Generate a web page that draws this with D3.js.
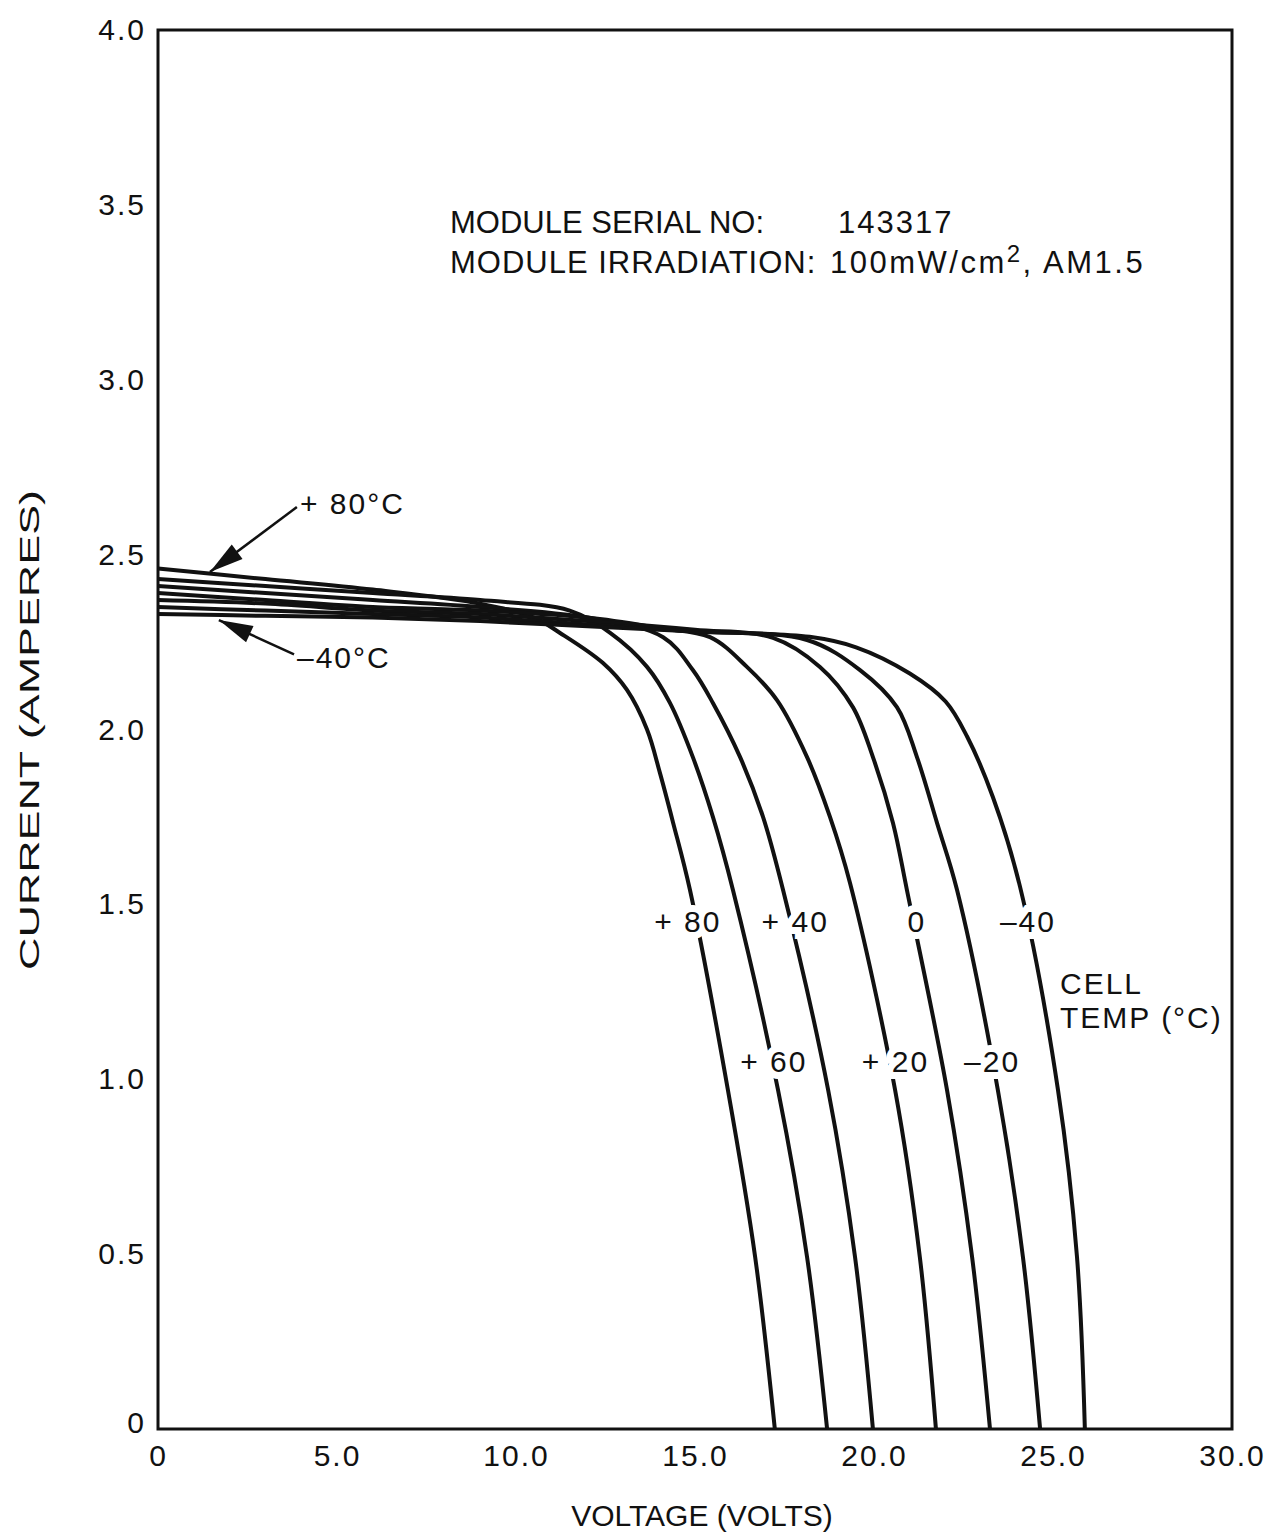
<!DOCTYPE html>
<html>
<head>
<meta charset="utf-8">
<script src="https://cdn.jsdelivr.net/npm/d3@7"></script>
<style>
  body { margin: 0; background: #fff; }
  svg { display: block; font-family: 'Liberation Sans', Arial, Helvetica, sans-serif; }
  .axis text { font-size: 30px; letter-spacing: 2px; fill: #111; }
  .note { font-size: 31px; fill: #111; }
  .lbl { font-size: 30px; fill: #111; letter-spacing: 2px; }
</style>
</head>
<body>
<svg width="1276" height="1533"></svg>
<script>
(function() {
  'use strict';

  // I-V curves, [volts, amperes], one per cell temperature
  const tempLabels = ['+80', '+60', '+40', '+20', '0', '-20', '-40'];
  const ivPlus80 = [[0, 2.46], [3, 2.43], [6, 2.40], [9, 2.36], [10.5, 2.32], [11.23, 2.276],
    [12.43, 2.19], [13.10, 2.113], [13.66, 2.0], [14.02, 1.876], [14.39, 1.733], [14.86, 1.541],
    [15.92, 0.969], [16.68, 0.492], [17.23, 0]];
  const ivPlus60 = [[0, 2.43], [3, 2.41], [6, 2.39], [9, 2.37], [11.5, 2.34], [12.63, 2.276],
    [13.66, 2.179], [14.30, 2.076], [14.94, 1.921], [15.50, 1.750], [16.06, 1.541],
    [17.32, 0.969], [18.13, 0.492], [18.69, 0]];
  const ivPlus40 = [[0, 2.41], [3, 2.39], [6, 2.37], [9, 2.35], [12, 2.32], [14.11, 2.264],
    [14.94, 2.17], [15.50, 2.076], [16.26, 1.921], [16.90, 1.75], [17.46, 1.541],
    [18.72, 0.969], [19.47, 0.492], [19.97, 0]];
  const ivPlus20 = [[0, 2.39], [3, 2.37], [6, 2.35], [9, 2.34], [12, 2.32], [14, 2.29],
    [15.42, 2.264], [16.45, 2.179], [17.29, 2.084], [18.13, 1.921], [18.77, 1.75],
    [19.33, 1.561], [20.59, 0.969], [21.28, 0.492], [21.73, 0]];
  const ivZero = [[0, 2.37], [3, 2.36], [6, 2.34], [9, 2.33], [12, 2.31], [15, 2.285],
    [17.18, 2.262], [18.49, 2.179], [19.41, 2.064], [19.97, 1.921], [20.53, 1.733],
    [20.92, 1.541], [22.04, 0.969], [22.74, 0.492], [23.24, 0]];
  const ivMinus20 = [[0, 2.35], [3, 2.34], [6, 2.33], [9, 2.32], [12, 2.30], [15, 2.28],
    [18.13, 2.256], [19.61, 2.17], [20.64, 2.064], [21.20, 1.921], [21.76, 1.733],
    [22.32, 1.541], [23.46, 0.969], [24.16, 0.492], [24.64, 0]];
  const ivMinus40 = [[0, 2.33], [3, 2.325], [6, 2.32], [9, 2.31], [12, 2.295], [15, 2.28],
    [18.2, 2.265], [19.5, 2.235], [21.0, 2.16], [22.0, 2.08], [22.6, 1.98],
    [23.32, 1.807], [24.08, 1.55], [25.14, 0.969], [25.67, 0.492], [25.89, 0]];
  const curves = [ivPlus80, ivPlus60, ivPlus40, ivPlus20, ivZero, ivMinus20, ivMinus40];

  const xTicks = [0, 5, 10, 15, 20, 25, 30];
  const xTickLabels = ['0', '5.0', '10.0', '15.0', '20.0', '25.0', '30.0'];
  const yTicks = [0, 0.5, 1, 1.5, 2, 2.5, 3, 3.5, 4];
  const yTickLabels = ['0', '0.5', '1.0', '1.5', '2.0', '2.5', '3.0', '3.5', '4.0'];

  // curve labels, placed in data units [volts, amperes]
  const curveLabelPos = [[14.8, 1.45], [17.2, 1.05], [17.8, 1.45], [20.6, 1.05],
    [21.2, 1.45], [23.3, 1.05], [24.3, 1.45]];

  const svg = d3.select('svg');
  svg.append('rect').attr('width', 1276).attr('height', 1533).attr('fill', '#fff');

  const x = d3.scaleLinear().domain([0, 30]).range([158, 1232]);
  const y = d3.scaleLinear().domain([0, 4]).range([1429, 30]);

  const xAxis = svg.append('g')
      .attr('class', 'axis')
      .attr('transform', 'translate(0,' + y(0) + ')')
      .call(d3.axisBottom(x)
          .tickValues(xTicks)
          .tickSize(0)
          .tickPadding(16)
          .tickFormat((d, i) => xTickLabels[i]));
  xAxis.select('.domain').remove();

  const yAxis = svg.append('g')
      .attr('class', 'axis')
      .attr('transform', 'translate(' + x(0) + ',0)')
      .call(d3.axisLeft(y)
          .tickValues(yTicks)
          .tickSize(0)
          .tickPadding(12)
          .tickFormat((d, i) => yTickLabels[i]));
  yAxis.select('.domain').remove();
  yAxis.selectAll('text').filter((d) => d === 0).attr('dy', '0.1em');

  // frame
  svg.append('rect')
      .attr('x', x(0))
      .attr('y', y(4))
      .attr('width', x(30) - x(0))
      .attr('height', y(0) - y(4))
      .attr('fill', 'none')
      .attr('stroke', '#111')
      .attr('stroke-width', 3);

  const line = d3.line()
      .x((d) => x(d[0]))
      .y((d) => y(d[1]))
      .curve(d3.curveCatmullRom.alpha(0.5));

  svg.append('g')
      .selectAll('path')
      .data(curves)
      .join('path')
      .attr('d', line)
      .attr('fill', 'none')
      .attr('stroke', '#111')
      .attr('stroke-width', 4);

  // curve labels with white background knock-out
  const lg = svg.append('g');
  tempLabels.forEach((t, i) => {
    const p = curveLabelPos[i];
    lg.append('text')
        .attr('class', 'lbl')
        .attr('x', x(p[0]))
        .attr('y', y(p[1]))
        .attr('text-anchor', 'middle')
        .attr('dy', '0.35em')
        .attr('stroke', '#fff')
        .attr('stroke-width', 14)
        .attr('paint-order', 'stroke')
        .text(t.replace('+', '+ ').replace('-', '\u2013'));
  });

  lg.append('text').attr('class', 'lbl')
      .attr('x', 1060).attr('y', 994).text('CELL');
  lg.append('text').attr('class', 'lbl')
      .attr('x', 1060).attr('y', 1028).text('TEMP (\u00b0C)');

  // header notes
  svg.append('text').attr('class', 'note').attr('x', 450).attr('y', 233).text('MODULE SERIAL NO:');
  svg.append('text').attr('class', 'note').attr('x', 838).attr('y', 233)
      .attr('letter-spacing', 2).text('143317');
  svg.append('text').attr('class', 'note').attr('x', 450).attr('y', 273)
      .attr('letter-spacing', 1).text('MODULE IRRADIATION:');
  const irr = svg.append('text').attr('class', 'note').attr('x', 830).attr('y', 273)
      .attr('letter-spacing', 2.5);
  irr.append('tspan').text('100mW/cm');
  irr.append('tspan').attr('dy', -11).attr('font-size', 24).text('2');
  irr.append('tspan').attr('dy', 11).text(', AM1.5');

  // arrows pointing to the extreme curves
  const arrows = [
    {from: [3.88, 2.636], to: [1.45, 2.45], text: '+ 80\u00b0C', tx: 300, ty: 514},
    {from: [3.80, 2.215], to: [1.70, 2.313], text: '\u201340\u00b0C', tx: 297, ty: 668},
  ];
  arrows.forEach((a) => {
    const x1 = x(a.from[0]);
    const y1 = y(a.from[1]);
    const x2 = x(a.to[0]);
    const y2 = y(a.to[1]);
    svg.append('line')
        .attr('x1', x1).attr('y1', y1)
        .attr('x2', x2).attr('y2', y2)
        .attr('stroke', '#111').attr('stroke-width', 2.5);
    const ang = Math.atan2(y2 - y1, x2 - x1);
    const len = 34;
    const w = 9;
    const bx = x2 - len * Math.cos(ang);
    const by = y2 - len * Math.sin(ang);
    const pts = [
      [x2, y2],
      [bx + w * Math.sin(ang), by - w * Math.cos(ang)],
      [bx - w * Math.sin(ang), by + w * Math.cos(ang)],
    ];
    svg.append('path')
        .attr('d', 'M' + pts.map((p) => p.join(',')).join('L') + 'Z')
        .attr('fill', '#111');
    svg.append('text').attr('class', 'lbl')
        .attr('x', a.tx).attr('y', a.ty).text(a.text);
  });

  // axis titles
  svg.append('text')
      .attr('font-size', 30)
      .attr('fill', '#111')
      .attr('x', 702)
      .attr('y', 1526)
      .attr('text-anchor', 'middle')
      .text('VOLTAGE (VOLTS)');

  svg.append('text')
      .attr('font-size', 27)
      .attr('fill', '#111')
      .attr('transform', 'translate(39,730) rotate(-90)')
      .attr('text-anchor', 'middle')
      .attr('textLength', 480)
      .attr('lengthAdjust', 'spacingAndGlyphs')
      .text('CURRENT (AMPERES)');
})();
</script>
</body>
</html>
